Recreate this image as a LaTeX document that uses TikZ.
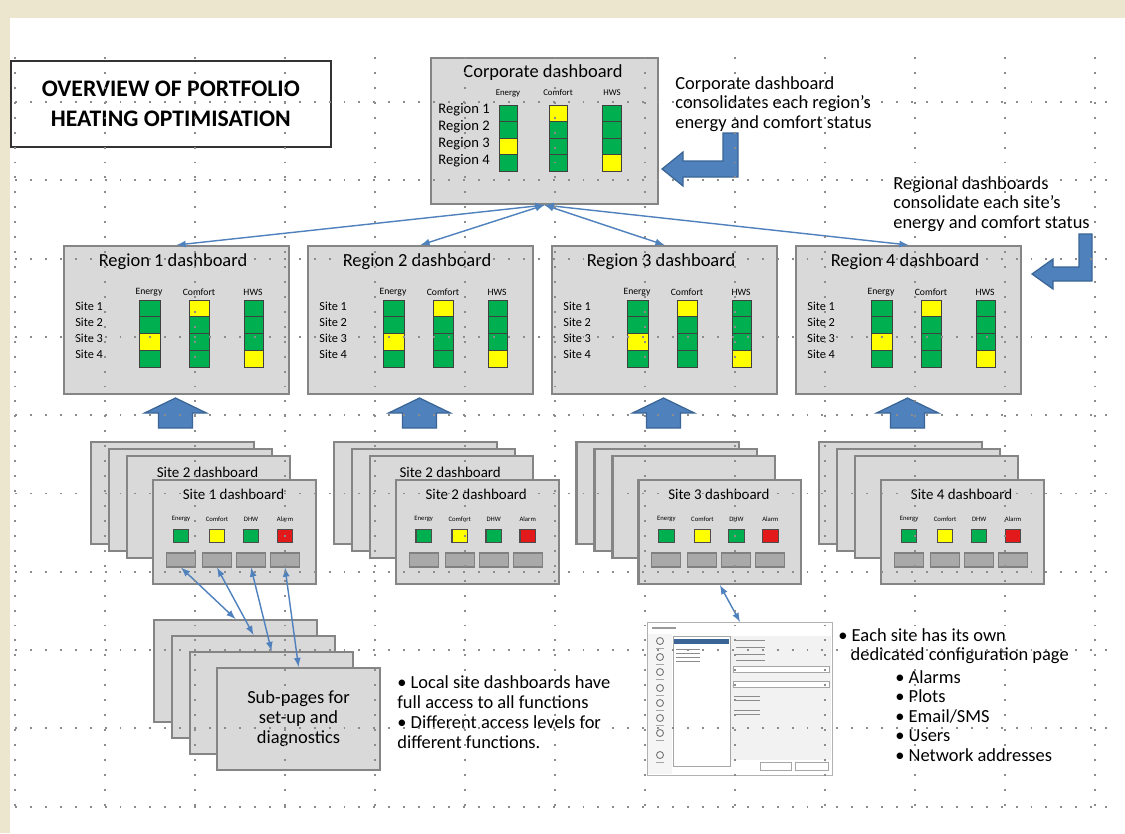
\documentclass[tikz,border=0pt]{standalone}
\usepackage{fontspec}
\setmainfont{Carlito}

\definecolor{slidebeige}{HTML}{ECE6CF}
\definecolor{slidecream}{HTML}{FBF5E2}
\definecolor{panelgrey}{HTML}{D9D9D9}
\definecolor{framegrey}{HTML}{858585}
\definecolor{buttongrey}{HTML}{A9A9A9}
\definecolor{okgreen}{HTML}{00B050}
\definecolor{warnyellow}{HTML}{FFFF00}
\definecolor{alarmred}{HTML}{E31A1C}
\definecolor{arrowblue}{HTML}{4F81BD}
\definecolor{arrowedge}{HTML}{3A6596}

\newcommand{\notefont}{\fontsize{10.5}{11.1}\selectfont}

% one column of four status cells, #5 = the yellow one
\newcommand{\statusbar}[5]{
	\foreach \k in {0, ..., 3} {
		\ifnum \k = #5 \def\cellfill{warnyellow}\else \def\cellfill{okgreen}\fi
		\draw [cell, fill = \cellfill] (#1, #2 + #4 * \k) rectangle ++(#3, #4);
	}
}

\begin{document}
\begin{tikzpicture}[x = 0.02cm, y = -0.02cm, > = latex,
	panel/.style = {draw = framegrey, line width = 1.2pt, fill = panelgrey, inner sep = 0pt, anchor = north west},
	sheet/.style = {panel, minimum width = 3.26cm, minimum height = 2.04cm},
	cell/.style = {draw = black!75, line width = 0.5pt},
	button/.style = {draw = gray, fill = buttongrey, line width = 0.6pt, minimum width = 0.58cm, minimum height = 0.28cm, inner sep = 0pt},
	lamp/.style = {draw = black!70, line width = 0.7pt, minimum width = 0.31cm, minimum height = 0.27cm, inner sep = 0pt},
	heading/.style = {font = \fontsize{10.5}{12}\selectfont, inner sep = 0pt},
	smalltext/.style = {font = \fontsize{7}{8}\selectfont, inner sep = 0pt},
	tinytext/.style = {font = \fontsize{5.5}{6}\selectfont, inner sep = 0pt},
	note/.style = {font = \notefont, align = left, inner sep = 0pt, anchor = north west},
	link/.style = {<->, arrowblue, line width = 0.8pt},
	blockarrow/.style = {fill = arrowblue, draw = arrowedge, line width = 0.7pt},
	gridline/.style = {black!45, line width = 1.1pt, dash pattern = on 1.1pt off 7.4pt}]

	% Slide
	
	\useasboundingbox (0, 0) rectangle (1125, 833);
	\fill [slidebeige] (0, 0) rectangle (1125, 833);
	\shade [left color = slidebeige, middle color = slidecream, right color = slidebeige] (0, 0) rectangle (1125, 18);
	\fill [white] (10, 18) rectangle (1125, 833);

	% Title
	
	\node [draw = black!80, line width = 1pt, fill = white, minimum width = 6.4cm, minimum height = 1.72cm, anchor = north west, align = center, font = \bfseries\fontsize{13.5}{17}\selectfont] (title) at (10, 60) {OVERVIEW OF PORTFOLIO\\HEATING OPTIMISATION};

	% Corporate dashboard
	
	\node [panel, minimum width = 4.54cm, minimum height = 2.92cm] (corp) at (430, 57) {};
	\node [heading] (corp-title) at (543, 73) {Corporate dashboard};
	\node [tinytext, font = \fontsize{5}{6}\selectfont] (corp-energy) at (508, 93) {Energy};
	\node [tinytext, font = \fontsize{5}{6}\selectfont] (corp-comfort) at (558, 93) {Comfort};
	\node [tinytext, font = \fontsize{5}{6}\selectfont] (corp-hws) at (612, 93) {HWS};
	\foreach \r in {1, ..., 4}
		\node [smalltext, font = \fontsize{8.3}{9}\selectfont, anchor = east] (corp-region\r) at (490, 93 + 17 * \r) {Region \r};
	\statusbar{499}{105}{18}{16.5}{2}
	\statusbar{549}{105}{18}{16.5}{0}
	\statusbar{602}{105}{19}{16.5}{3}
	
	\node [note] (corp-note) at (675, 76) {Corporate dashboard\\consolidates each region's\\energy and comfort status};
	\filldraw [blockarrow] (723, 133) -- (738, 133) -- (738, 177) -- (683, 177) -- (683, 186) -- (662, 169) -- (683, 152) -- (683, 161) -- (723, 161) -- cycle;

	% Regional dashboards
	
	\foreach \i in {1, ..., 4} {
		\pgfmathsetmacro{\xl}{63 + 244 * (\i - 1)}
		\pgfmathsetmacro{\cx}{\xl + 112.5}
		\node [panel, minimum width = 4.5cm, minimum height = 2.96cm] (reg\i) at (\xl, 245) {};
		\node [heading] (reg\i-title) at (\xl + 110, 262) {Region \i\ dashboard};
		\node [tinytext] (reg\i-energy) at (\xl + 86, 292) {Energy};
		\node [tinytext] (reg\i-comfort) at (\xl + 136, 292) {Comfort};
		\node [tinytext] (reg\i-hws) at (\xl + 190, 292) {HWS};
		\foreach \s in {1, ..., 4}
			\node [smalltext, anchor = west] (reg\i-site\s) at (\xl + 12, 290 + 16 * \s) {Site \s};
		\statusbar{\xl + 76}{300}{21}{16.75}{2}
		\statusbar{\xl + 126}{300}{20}{16.75}{0}
		\statusbar{\xl + 181}{300}{19}{16.75}{3}
		\filldraw [blockarrow] (\cx - 17, 428) -- (\cx - 17, 413) -- (\cx - 31, 413) -- (\cx, 398) -- (\cx + 31, 413) -- (\cx + 17, 413) -- (\cx + 17, 428) -- cycle;
	}
	
	\foreach \i in {1, ..., 4}
		\draw [link] (corp.south) -- (reg\i.north);
	
	\node [note] (region-note) at (893, 176) {Regional dashboards\\consolidate each site's\\energy and comfort status};
	\filldraw [blockarrow] (1079, 234) -- (1092, 234) -- (1092, 281) -- (1053, 281) -- (1053, 289) -- (1032, 274) -- (1053, 259) -- (1053, 267) -- (1079, 267) -- cycle;

	% Site dashboards
	
	\foreach \i in {1, ..., 4} {
		\pgfmathsetmacro{\xs}{90 + 242.7 * (\i - 1)}
		\node [sheet] (site\i-a) at (\xs, 441) {};
		\node [sheet] (site\i-b) at (\xs + 18, 448) {};
		\node [sheet] (site\i-c) at (\xs + 36, 455) {};
		\ifnum \i < 3
			\node [heading, font = \fontsize{8.5}{10}\selectfont] (site\i-back) at (\xs + 117.5, 472) {Site 2 dashboard};
		\fi
		\node [sheet, minimum height = 2.08cm] (site\i-d) at (\xs + 62, 479) {};
		\node [heading, font = \fontsize{8.5}{10}\selectfont] (site\i-title) at (\xs + 143.5, 494) {Site \i\ dashboard};
		\foreach \k/\dx/\name/\lampcol in {1/29/Energy/okgreen, 2/65/Comfort/warnyellow, 3/99/DHW/okgreen, 4/133/Alarm/alarmred} {
			\node [tinytext, font = \fontsize{3.8}{4}\selectfont] (site\i-head\k) at (\xs + 62 + \dx, 519) {\name};
			\node [lamp, fill = \lampcol] (site\i-lamp\k) at (\xs + 62 + \dx, 536) {};
			\node [button] (site\i-btn\k) at (\xs + 62 + \dx, 560) {};
		}
	}

	% Sub-pages
	
	\node [sheet] (sub-a) at (153, 619) {};
	\node [sheet] (sub-b) at (171, 635) {};
	\node [sheet] (sub-c) at (189, 651) {};
	\node [sheet, align = center, font = \fontsize{10.5}{11.4}\selectfont] (sub-d) at (216, 667) {Sub-pages for\\set-up and\\diagnostics};
	
	\draw [link] (site1-btn1.south) -- (sub-a.north);
	\draw [link] (site1-btn2.south) -- (sub-b.north);
	\draw [link] (site1-btn3.south) -- (sub-c.north);
	\draw [link] (site1-btn4.south) -- (sub-d.north);
	
	\node [note, font = \fontsize{10.5}{11.4}\selectfont] (local-note) at (397, 675) {\textbullet\ Local site dashboards have\\full access to all functions\\\textbullet\ Different access levels for\\different functions.};

	% Configuration page
	
	\node [draw = black!30, fill = white, line width = 0.6pt, minimum width = 3.7cm, minimum height = 3.06cm, inner sep = 0pt, anchor = north west] (config) at (647, 622) {};
	\draw [black!40, line width = 0.8pt] (652, 628) -- (676, 628);
	\fill [black!4] (648, 634) rectangle (672, 774);
	\foreach \y in {641, 657, 672, 688, 703, 718, 733, 755} {
		\draw [black!55, line width = 0.5pt] (660, \y) circle (3.5);
		\draw [black!35, line width = 0.5pt] (656, \y + 7) -- (664, \y + 7);
	}
	\draw [black!35, fill = white] (673, 636) rectangle (730, 766);
	\fill [arrowedge] (674, 639) rectangle (729, 644);
	\foreach \y in {649, 653, 657, 661}
		\draw [black!45, line width = 0.4pt] (676, \y) -- (700, \y);
	\fill [black!5] (731, 636) rectangle (831, 760);
	\foreach \y in {640, 647, 654, 660}
		\draw [black!45, line width = 0.4pt] (736, \y) -- (765, \y);
	\draw [black!35, fill = white] (733, 666) rectangle (829, 672);
	\draw [black!35, fill = white] (733, 681) rectangle (829, 687);
	\foreach \y in {696, 700, 710, 714}
		\draw [black!45, line width = 0.4pt] (734, \y) -- (760, \y);
	\draw [black!35, fill = white] (760, 762) rectangle (791, 770);
	\draw [black!35, fill = white] (795, 762) rectangle (828, 770);
	
	\draw [link] (site3-d.south) -- (config.north);
	
	\node [note] (config-note) at (838, 628) {\textbullet\ Each site has its own\\\hspace*{7pt}dedicated configuration page};
	\node [note, font = \fontsize{10.5}{11.1}\selectfont] (config-list) at (895, 670) {\textbullet\ Alarms\\\textbullet\ Plots\\\textbullet\ Email/SMS\\\textbullet\ Users\\\textbullet\ Network addresses};

	% Grid
	
	\foreach \x in {15, 105, ..., 1095}
		\draw [gridline] (\x, 57) -- (\x, 808);
	\foreach \k in {0, ..., 9}
		\draw [gridline] (15, 102 + 78.3 * \k) -- (1110, 102 + 78.3 * \k);

\end{tikzpicture}
\end{document}
